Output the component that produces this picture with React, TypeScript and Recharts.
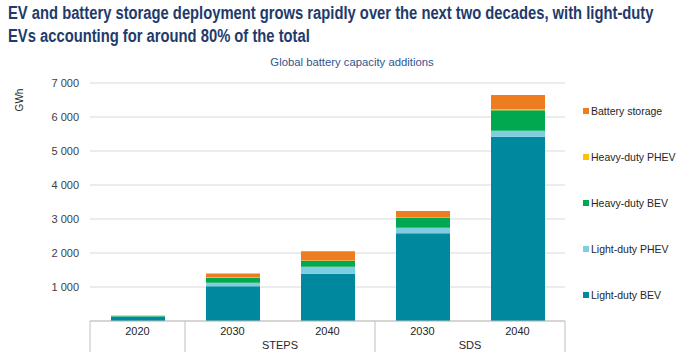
import React from "react";
import { BarChart, Bar, XAxis, YAxis, CartesianGrid, Legend } from "recharts";

const years = ["2020", "2030", "2040", "2030", "2040"];
const scenarios = ["", "STEPS", "STEPS", "SDS", "SDS"];
const lightDutyBev = [125, 1020, 1390, 2580, 5420];
const lightDutyPhev = [5, 105, 205, 165, 175];
const heavyDutyBev = [20, 150, 175, 290, 600];
const heavyDutyPhev = [5, 10, 10, 10, 30];
const batteryStorage = [10, 115, 275, 190, 420];
const yTicks = [1000, 2000, 3000, 4000, 5000, 6000, 7000];

const series = [
  { key: "ldBev", name: "Light-duty BEV", color: "#00889e", values: lightDutyBev },
  { key: "ldPhev", name: "Light-duty PHEV", color: "#7ecde0", values: lightDutyPhev },
  { key: "hdBev", name: "Heavy-duty BEV", color: "#00a84f", values: heavyDutyBev },
  { key: "hdPhev", name: "Heavy-duty PHEV", color: "#ffc000", values: heavyDutyPhev },
  { key: "storage", name: "Battery storage", color: "#ee7d1f", values: batteryStorage },
];

const data = years.map((year, i) => {
  const row: Record<string, string | number> = { id: i, year, scenario: scenarios[i] };
  series.forEach((s) => (row[s.key] = s.values[i]));
  return row;
});

const PLOT_LEFT = 90;
const PLOT_RIGHT = 565;
const BAND = (PLOT_RIGHT - PLOT_LEFT) / years.length;
const AXIS_Y = 321;
const BOX_BOTTOM = 352;

const fmt = (v: number) => String(v).replace(/\B(?=(\d{3})+(?!\d))/g, " ");

function CategoryTick(props: any) {
  const { x, payload } = props;
  const i = payload.index;
  const left = x - BAND / 2;
  const parts: React.ReactNode[] = [];
  if (i === 0 || scenarios[i] !== scenarios[i - 1]) {
    parts.push(<line key="l" x1={left} x2={left} y1={AXIS_Y} y2={BOX_BOTTOM} stroke="#bfbfbf" />);
    if (scenarios[i]) {
      const count = scenarios.filter((s) => s === scenarios[i]).length;
      parts.push(
        <text key="g" x={left + (count * BAND) / 2} y={349} textAnchor="middle" fontSize={11} fill="#262626">
          {scenarios[i]}
        </text>
      );
    }
  }
  if (i === years.length - 1) {
    parts.push(<line key="r" x1={left + BAND} x2={left + BAND} y1={AXIS_Y} y2={BOX_BOTTOM} stroke="#bfbfbf" />);
  }
  return (
    <g>
      {parts}
      <text x={x} y={335} textAnchor="middle" fontSize={11} fill="#262626">
        {years[i]}
      </text>
    </g>
  );
}

function LegendList() {
  const items = [...series].reverse();
  return (
    <div style={{ fontSize: 10.5, color: "#262626" }}>
      {items.map((s) => (
        <div key={s.key} style={{ display: "flex", alignItems: "center", height: 46 }}>
          <span style={{ width: 6, height: 6, background: s.color, marginRight: 2, display: "inline-block" }} />
          <span>{s.name}</span>
        </div>
      ))}
    </div>
  );
}

const titleLine: React.CSSProperties = {
  whiteSpace: "nowrap",
  transform: "scaleX(0.82)",
  transformOrigin: "left top",
  height: 23,
};

export default function App() {
  return (
    <div style={{ position: "fixed", left: 0, top: 0, width: 700, height: 362, background: "#fff", fontFamily: "'Liberation Sans', Arial, sans-serif" }}>
      <div
        style={{
          position: "absolute",
          left: 8,
          top: 2,
          fontWeight: "bold",
          fontSize: 18,
          lineHeight: "23px",
          color: "#1f3b6b",
        }}
      >
        <div style={titleLine}>EV and battery storage deployment grows rapidly over the next two decades, with light-duty</div>
        <div style={titleLine}>EVs accounting for around 80% of the total</div>
      </div>
      <div
        style={{
          position: "absolute",
          left: 200,
          width: 304,
          top: 56,
          textAlign: "center",
          fontSize: 11.3,
          color: "#2e5590",
        }}
      >
        Global battery capacity additions
      </div>
      <BarChart
        width={700}
        height={362}
        data={data}
        margin={{ top: 83, right: 700 - PLOT_RIGHT, bottom: 0, left: 30 }}
        barSize={54}
      >
        <CartesianGrid vertical={false} stroke="#d9d9d9" />
        <XAxis
          dataKey="id"
          axisLine={{ stroke: "#bfbfbf" }}
          tickLine={false}
          tick={<CategoryTick />}
          interval={0}
          height={362 - AXIS_Y}
        />
        <YAxis
          width={60}
          domain={[0, 7000]}
          ticks={yTicks}
          axisLine={false}
          tickLine={false}
          tickMargin={5}
          tickFormatter={fmt}
          tick={{ fontSize: 11, fill: "#404040" }}
          label={{
            content: () => (
              <text x={23} y={100} transform="rotate(-90 23 100)" textAnchor="middle" fontSize={10} fill="#262626">
                GWh
              </text>
            ),
          }}
        />
        <Legend
          layout="horizontal"
          align="center"
          verticalAlign="middle"
          wrapperStyle={{ left: 583, top: 88, width: 117 }}
          content={<LegendList />}
        />
        {series.map((s) => (
          <Bar key={s.key} dataKey={s.key} name={s.name} stackId="a" fill={s.color} isAnimationActive={false} />
        ))}
      </BarChart>
    </div>
  );
}
